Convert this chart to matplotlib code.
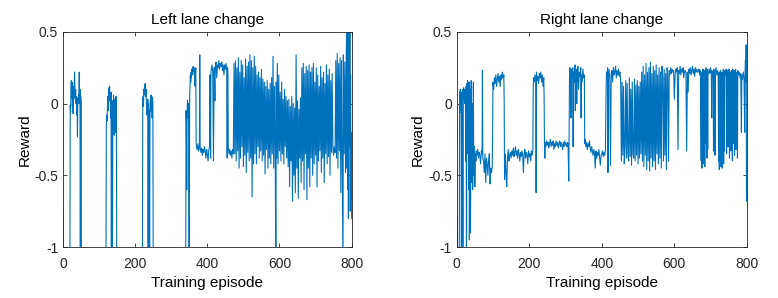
import matplotlib
matplotlib.use('Agg')
import matplotlib.pyplot as plt

# %% data (episode, reward); -1.2 = below the axis
left_ep = [0, 1, 19,
           20, 21, 22, 23, 24, 25, 26, 27, 28, 29, 30, 31, 32, 33, 34, 35, 36, 37, 38, 39, 40,
           41, 42, 43, 44, 45, 46, 47, 48, 49, 50, 51, 119,
           120, 121, 122, 123, 124, 125, 126, 127, 128, 129, 130, 131, 132, 133, 134, 135, 136,
           137, 138, 139, 140, 141, 142, 143, 144, 145, 146, 147, 148, 149, 220,
           221, 222, 223, 224, 225, 226, 227, 228, 229, 230, 231, 232, 233, 234, 235, 236, 237,
           238, 239, 240, 241, 242, 243, 244, 245, 246, 247, 248, 249, 250, 340,
           341, 342, 343, 344, 345, 346, 347, 348, 349, 350, 351, 352, 353, 354, 355, 356, 357,
           358, 359, 360, 361, 362, 363, 364, 365, 366, 367, 368, 369, 370, 372, 374, 376, 378,
           379, 380, 382, 384, 386, 388, 390, 392, 394, 396, 398, 400, 402, 404, 406, 407, 408,
           409, 410, 411, 413, 415, 417, 419, 421, 422, 424, 426, 428, 430, 432, 434, 436, 438,
           440, 442, 444, 446, 448, 450, 452, 454, 455, 456, 457, 458, 460, 462, 464, 466, 468,
           470, 472,
           474, 476, 478, 480, 482, 484, 486, 488, 490, 492, 494, 496, 498, 500, 502, 504, 506,
           508, 510, 512, 514, 516,
           518, 520, 522, 524, 526, 528, 530,
           532, 534, 536, 538, 540, 542, 544, 546, 548, 550, 552, 554,
           556, 558, 560, 562, 564, 566, 568, 570, 572,
           574, 576, 578, 580, 582, 584, 586, 588, 590, 591,
           592, 594, 596, 598, 600, 602, 604, 606, 608, 610, 612, 614, 616, 618, 620, 622, 624,
           626, 628, 630, 632, 634, 636, 638, 640, 642, 644, 646, 648, 650, 652, 654, 656, 658, 660,
           662, 664, 666, 668, 670, 672, 674, 676, 678, 680, 682, 684, 686, 688, 690, 692,
           694, 696, 698, 700, 702, 704, 706, 708, 710, 712, 714, 716, 718, 720, 722, 724, 726,
           728, 730, 732, 734, 736, 738, 740, 742, 744, 746,
           748, 750, 752, 754,
           756, 758, 760, 762, 764, 766, 768, 770, 772, 774, 776, 777, 779, 781, 783, 785,
           786, 787, 788, 789, 790, 791, 792, 794, 795, 796, 797, 798, 799, 800]
left_rew = [-0.74, -1.2, -1.2,
            -0.01, -0.06, 0.10, 0.16, 0.04, 0.15, -0.02, 0.08, -0.07, 0.12, 0.04, 0.14, 0.22,
            0.08, 0.03, 0.10, 0.0, 0.05, -0.08, 0.02, -0.23,
            0.04, 0.0, 0.06, 0.02, 0.22, 0.0, 0.10, -1.2, 0.05, 0.0, -1.2, -1.2,
            -0.15, -0.08, -0.12, -0.03, 0.05, -0.05, 0.0, 0.11, 0.04, 0.12, 0.02, 0.06, -0.10,
            0.08, -1.2, -0.05, -0.20,
            -1.2, 0.02, -0.10, 0.06, -0.05, -0.22, 0.03, -0.05, -0.20, -0.10, 0.05, -0.08, -1.2,
            -1.2,
            0.0, 0.05, -0.02, 0.10, 0.06, 0.13, 0.08, 0.14, 0.05, 0.10, 0.02, -0.08, 0.0, -0.05,
            0.03, -1.2, 0.0,
            -0.10, -0.05, -1.2, -0.10, 0.02, -0.05, 0.06, -0.02, 0.05, -0.10, 0.04, 0.0, -1.2,
            -1.2,
            -0.05, -0.15, -0.60, -0.05, 0.02, -0.10, 0.0, -0.05, -1.2, -1.2, 0.05, 0.12, 0.20,
            0.15, 0.22, 0.18, 0.24,
            0.20, 0.25, 0.22, 0.26, 0.23, 0.25, 0.20, 0.24, 0.12, 0.22, 0.25, -0.28, -0.30, -0.32,
            -0.28, -0.33, -0.30,
            0.34, -0.30, -0.34, -0.31, -0.36, -0.32, -0.34, -0.30, -0.33, -0.38, -0.32, -0.35,
            -0.40, -0.33, -0.30, 0.20, 0.15,
            -0.38, 0.22, 0.24, 0.27, 0.22, -0.40, 0.25, 0.02, 0.26, 0.29, 0.18, 0.27, 0.25, 0.30,
            0.24, 0.28, 0.26,
            0.29, 0.23, 0.27, 0.20, 0.27, 0.24, 0.28, 0.22, -0.38, 0.25, 0.20, -0.30, -0.35,
            -0.32, -0.36, -0.33, -0.38,
            -0.32, -0.35,
            0.28, -0.35, 0.30, -0.40, 0.25, -0.33, 0.32, -0.45, 0.22, -0.38, 0.30, -0.30, 0.27,
            -0.44, 0.18, -0.36, 0.31,
            -0.48, 0.26, -0.34, 0.29, -0.40,
            0.34, -0.38, 0.30, -0.65, 0.25, -0.42, 0.33,
            -0.35, 0.26, -0.42, 0.20, -0.30, 0.22, -0.38, 0.18, -0.33, 0.24, -0.40, 0.17,
            -0.36, 0.15, -0.49, 0.12, -0.32, 0.16, -0.45, 0.10, -0.38,
            0.14, -0.42, 0.18, -0.35, 0.33, -0.45, 0.12, -0.30, -1.2, 0.15,
            -0.38, 0.28, -0.42, 0.20, -0.33, 0.08, -0.40, 0.15, -0.35, 0.03, -0.42, 0.10, -0.30,
            0.05, -0.38, 0.02, -0.44,
            0.03, -0.58, -0.02, -0.40, 0.05, -0.68, 0.0, -0.50, -0.03, -0.62, 0.34, -0.45, 0.02,
            -0.66, -0.04, -0.38, 0.04, -0.55,
            0.25, -0.40, 0.28, -0.60, 0.21, -0.35, 0.26, -0.67, 0.23, -0.45, 0.27, -0.58, 0.22,
            -0.38, 0.25, -0.50,
            0.28, -0.42, 0.15, -0.36, 0.25, -0.58, 0.20, -0.40, 0.12, -0.33, 0.26, -0.48, 0.18,
            -0.38, 0.22, -0.55, 0.14,
            -0.35, 0.27, -0.42, 0.20, -0.37, 0.24, -0.50, 0.16, -0.34, 0.21,
            -0.32, -0.36, -0.30, -0.34,
            0.30, -0.38, 0.35, -0.45, 0.28, -0.33, 0.32, -0.62, 0.30, -0.40, -1.2, 0.34, -0.35,
            0.29, -0.48, 0.33,
            0.5, -0.45, 0.5, -0.60, 0.30, -0.80, 0.5, -0.30, 0.5, -0.75, 0.20, -0.55, -0.20, -0.80]

right_ep = [0, 1, 2, 7, 8, 9, 10, 11, 12, 13, 14, 15, 16, 17, 18, 19, 20, 21, 22, 23, 24, 25,
            26, 27, 28, 29, 30, 31, 32, 33, 34, 35, 36, 37, 38, 39, 40, 41, 42, 43, 44, 45, 46,
            47, 48, 49, 50, 51, 52, 53, 54, 56, 58, 60, 62, 64, 66, 68, 70, 71, 72, 74, 76, 78,
            80, 82, 84, 86, 88, 90, 92, 94, 96, 98, 99, 100, 102, 104, 106, 108, 110, 112, 114,
            116, 118, 120, 122, 124, 126, 128, 130, 131, 132, 134, 136, 138, 140, 142, 144, 146,
            148, 150, 152, 154, 156, 158, 160, 162, 164, 166, 168, 170, 172, 174, 176, 178, 180,
            182, 184, 186, 188, 190, 192, 194, 196, 198, 200, 202, 204, 206, 208, 210,
            211, 212, 214, 216, 218, 219, 220, 222, 224, 226, 228, 230, 232, 234, 236, 238, 240,
            241,
            242, 243, 244, 246, 248, 250, 252, 254, 256, 258, 260, 262, 264, 266, 268, 270, 272,
            274, 276, 278, 280, 282, 284, 286, 288, 290, 292, 294, 296, 298, 300, 302, 304, 305,
            307, 309, 310, 311, 312, 314, 315, 316, 318, 320, 321, 322, 324, 326, 327, 328, 330,
            331, 332, 334, 336, 338, 340, 342, 343, 344, 346, 348, 350, 352,
            353, 354, 356, 358, 360, 362, 364, 366, 368, 370, 372, 374, 376, 378, 380, 382, 384,
            386, 388, 390, 392, 394, 396, 398, 400, 402, 404, 406, 408, 410,
            412, 413, 415, 416, 417, 418, 420, 422, 424, 426, 428, 430, 432, 434, 436, 438, 440,
            442, 444, 446, 448, 450, 452,
            454, 456, 458, 460, 462, 464, 466, 468, 470, 472, 474, 476, 478, 480, 482, 484, 486,
            488, 490, 492, 494, 496, 498, 500, 502, 504, 506, 508,
            510, 512, 514, 516, 518, 520, 522, 524, 526, 528, 530, 532, 534, 536, 538, 540, 542,
            544, 546, 548, 550, 552, 554, 556, 558, 560, 562, 564, 566, 568, 570, 572, 574, 576,
            578, 580, 582, 584, 586,
            588, 590, 592, 594, 596, 598, 600, 602, 604, 606,
            608, 610, 612, 614, 616, 618, 620, 622, 624, 626,
            628, 630, 632, 634, 636, 638, 640, 642, 644, 646,
            648, 650, 652, 654, 656, 658, 660, 662, 664,
            666, 668, 670, 672, 674, 675, 676, 677, 678, 679,
            680, 681, 682, 683, 684, 685, 687, 688, 689, 690,
            691, 692, 693, 696, 698, 700, 702, 703, 704, 707,
            708, 709, 710, 711, 712, 713, 715, 717, 719, 721,
            722, 723, 724, 725, 726, 727, 728, 729, 730, 731,
            732, 733, 734, 735, 736, 737, 738, 739, 741, 743,
            744, 745, 747, 748, 749, 751, 752, 753, 755, 756,
            757, 759, 760, 761, 762, 763, 765, 766, 767, 769,
            770, 771, 773, 774, 775, 777,
            779, 781, 783, 785, 786, 788, 790, 792, 794, 795,
            796, 797, 798, 799, 800]
right_rew = [-0.78, -0.90, -1.2, -1.2, 0.08, -0.05, 0.10, -0.06, 0.05, -1.2, 0.08, 0.02, 0.10,
             -1.2, 0.06, 0.11, 0.03, 0.08, 0.0, 0.10, 0.05, -0.40,
             0.12, -1.2, 0.14, -0.10, 0.16, -0.35, 0.05, -0.60, 0.15, -0.95, -0.30, 0.10, -0.90,
             -0.45, 0.16, -0.55, -0.20, 0.0, -0.60, -0.35, 0.15,
             -0.40, -0.50, -0.30, -0.58, -0.38, -0.35, -0.40, -0.33, -0.36, -0.32, -0.38, -0.34,
             -0.36, -0.42, -0.33, -0.35, 0.23, -0.38, -0.40, -0.48, -0.35,
             -0.55, -0.38, -0.42, -0.50, -0.40, -0.35, -0.56, -0.45, -0.48, -0.44, -0.20, 0.15,
             0.10, 0.18, 0.14, 0.20, 0.12, 0.17, 0.21,
             0.15, 0.19, 0.12, 0.20, 0.17, 0.22, 0.18, 0.20, 0.0, -0.53, -0.35, -0.48, -0.58,
             -0.38, -0.32, -0.40, -0.36,
             -0.34, -0.38, -0.33, -0.36, -0.31, -0.37, -0.34, -0.30, -0.36, -0.33, -0.38, -0.32,
             -0.35, -0.40, -0.34, -0.37, -0.33,
             -0.36, -0.48, -0.35, -0.32, -0.38, -0.34, -0.36, -0.42, -0.33, -0.37, -0.35, -0.40,
             -0.33, -0.36, -0.32,
             0.10, 0.18, 0.15, 0.20, 0.17, -0.62, 0.22, 0.16, 0.19, 0.14, 0.21, 0.18, 0.22, 0.15,
             0.20, 0.12, 0.18,
             0.05,
             -0.28, -0.38, -0.27, -0.30, -0.26, -0.29, -0.27, -0.31, -0.28, -0.25, -0.30, -0.27,
             -0.29, -0.26, -0.32, -0.28, -0.30,
             -0.26, -0.29, -0.27, -0.31, -0.28, -0.26, -0.30, -0.27, -0.29, -0.32, -0.27, -0.30,
             -0.26, -0.29, -0.28, -0.30, -0.27,
             -0.28, -0.54, -0.20, 0.18, 0.25, 0.20, -0.10, 0.24, 0.18, 0.25, -0.30, 0.22, 0.15,
             0.27, -0.05, 0.20, 0.24,
             0.0, 0.18, 0.26, 0.10, 0.22, 0.19, 0.25, -0.10, 0.20, 0.15, 0.24, 0.18, 0.20,
             -0.28, -0.25, -0.30, -0.27, -0.32, -0.28, -0.30, -0.26, -0.31, -0.34, -0.30, -0.33,
             -0.36, -0.32, -0.35, -0.45, -0.33,
             -0.38, -0.34, -0.36, -0.32, -0.38, -0.43, -0.36, -0.35, -0.33, -0.37, -0.34, -0.36,
             -0.32,
             0.10, 0.22, 0.20, 0.25, -0.48, 0.20, 0.24, 0.18, -0.43, 0.21, 0.23, 0.15, 0.25, 0.20,
             0.22, 0.26, 0.18,
             0.23, 0.20, 0.24, 0.19, 0.22, 0.16,
             -0.40, 0.15, -0.36, 0.12, -0.42, -0.30, 0.16, -0.38, 0.14, -0.35, -0.40, 0.18, -0.37,
             0.10, -0.43, 0.15, -0.35,
             -0.38, 0.17, -0.40, 0.13, -0.36, 0.16, -0.42, 0.12, -0.38, 0.15, -0.35,
             0.22, -0.40, 0.26, -0.44, 0.20, -0.36, 0.28, -0.46, 0.22, -0.40, 0.25, -0.47, 0.29,
             -0.38, 0.21, -0.44, 0.26,
             -0.40, 0.23, -0.46, 0.27, -0.35, 0.20, -0.42, 0.25, -0.38, 0.22, -0.45, 0.26, 0.18,
             -0.40, 0.24, -0.36, 0.21,
             -0.46, 0.25, 0.20, -0.40, 0.23,
             0.20, 0.25, 0.21, 0.24, 0.22, 0.23, 0.03, 0.20, 0.24, 0.22,
             0.25, -0.32, 0.23, 0.21, 0.26, 0.20, 0.24, 0.22, 0.25, 0.18,
             0.23, 0.23, 0.21, -0.33, 0.22, 0.08, 0.24, 0.21, 0.25, 0.20,
             0.23, 0.26, 0.21, 0.24, 0.19, 0.25, 0.22, 0.24, 0.22,
             0.22, 0.24, 0.20, 0.23, -0.40, 0.22, -0.45, 0.20, -0.30, 0.24,
             -0.42, 0.21, -0.35, 0.23, -0.44, 0.22, 0.25, -0.28, 0.21, -0.38,
             0.24, -0.32, 0.20, 0.24, 0.21, 0.25, 0.20, -0.10, 0.23, 0.21,
             -0.33, 0.24, -0.30, 0.20, -0.36, 0.22, 0.25, 0.20, 0.23, 0.19,
             -0.40, 0.22, -0.46, 0.20, -0.35, 0.23, -0.44, 0.18, -0.30, 0.22,
             -0.45, 0.20, -0.38, 0.24, -0.42, 0.21, -0.33, 0.23, 0.20, 0.24,
             -0.35, 0.21, 0.23, -0.30, 0.20, 0.24, -0.38, 0.22, 0.19, -0.33,
             0.23, 0.21, -0.40, 0.24, -0.28, 0.20, 0.23, -0.36, 0.21, 0.24,
             -0.32, 0.20, 0.22, -0.38, 0.23, 0.20,
             0.22, 0.18, 0.21, -0.20, 0.20, 0.17, 0.22, 0.18, -0.20, 0.22,
             0.30, 0.15, 0.41, -0.68, -0.50]

titles = ['Left lane change', 'Right lane change']
x_ticks = [0, 200, 400, 600, 800]
y_ticks = [-1, -0.5, 0, 0.5]
y_tick_labels = ['-1', '-0.5', '0', '0.5']

# %% figure
plt.rcParams['font.family'] = ['Liberation Sans', 'DejaVu Sans']
fig = plt.figure(figsize=(7.78, 2.98), dpi=100)
ax_l = fig.add_axes([0.081, 0.171, 0.371, 0.722])
ax_r = fig.add_axes([0.587, 0.171, 0.373, 0.722])

for ax, ep, rew, title in [(ax_l, left_ep, left_rew, titles[0]),
                           (ax_r, right_ep, right_rew, titles[1])]:
    ax.plot(ep, rew, color='#0072BD', linewidth=0.8)
    ax.set_xlim(0, 800)
    ax.set_ylim(-1, 0.5)
    ax.set_xticks(x_ticks)
    ax.set_yticks(y_ticks)
    ax.set_yticklabels(y_tick_labels)
    ax.tick_params(axis='x', pad=7)
    ax.tick_params(direction='in', length=3, width=0.6, top=True, right=True,
                   labelsize=10, colors='#262626')
    for s in ax.spines.values():
        s.set_linewidth(0.6)
        s.set_color('#262626')
    ax.set_title(title, fontsize=11, color='black', pad=6)
    ax.set_xlabel('Training episode', fontsize=11, labelpad=4)
    ax.set_ylabel('Reward', fontsize=11, labelpad=2)

fig.savefig('out.png', dpi=100)
